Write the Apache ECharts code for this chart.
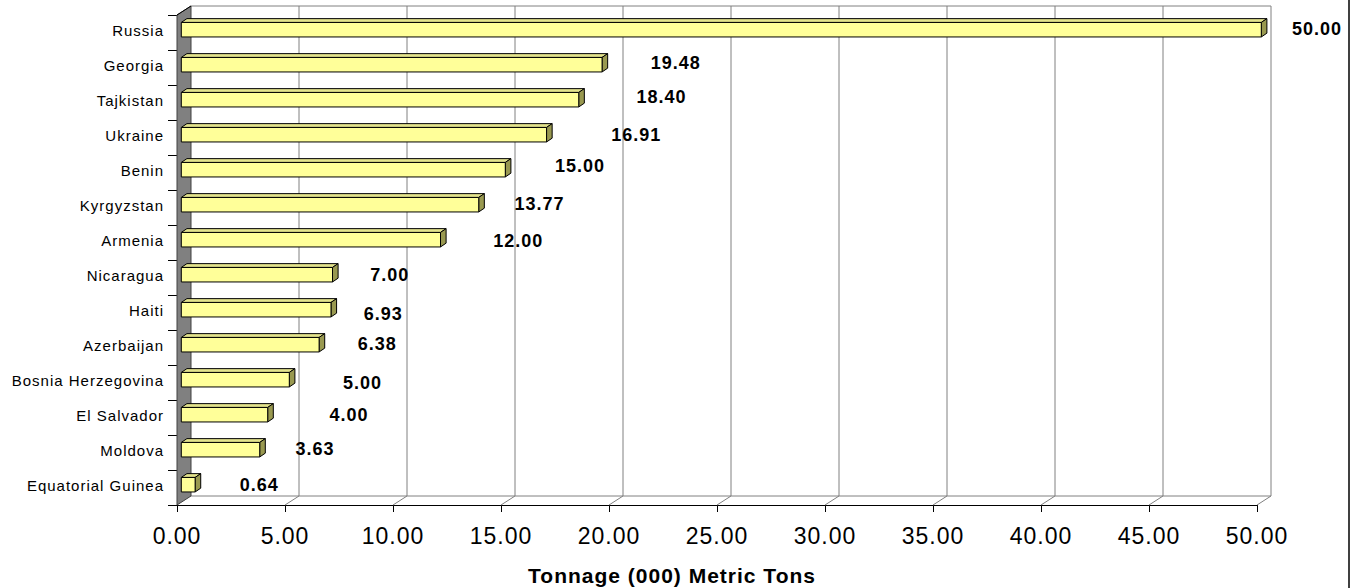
<!DOCTYPE html>
<html>
<head>
<meta charset="utf-8">
<title>Tonnage (000) Metric Tons</title>
<script src="https://cdn.jsdelivr.net/npm/echarts@6/dist/echarts.min.js"></script>
<style>
  html, body { margin: 0; padding: 0; background: #fff; }
  #chart { width: 1360px; height: 588px; }
  /* slightly expanded type, as in the printed report */
  #chart text { letter-spacing: 1px; }
</style>
</head>
<body>
<div id="chart"></div>
<script>
// Recipients, top to bottom
const countries = [
  'Russia', 'Georgia', 'Tajkistan', 'Ukraine', 'Benin', 'Kyrgyzstan', 'Armenia',
  'Nicaragua', 'Haiti', 'Azerbaijan', 'Bosnia Herzegovina', 'El Salvador',
  'Moldova', 'Equatorial Guinea'
];
// Tonnage, thousands of metric tons
const tonnage = [50.00, 19.48, 18.40, 16.91, 15.00, 13.77, 12.00, 7.00, 6.93, 6.38, 5.00, 4.00, 3.63, 0.64];
// Value axis
const axisMin = 0, axisMax = 50, axisStep = 5;
const axisTitle = 'Tonnage (000) Metric Tons';

// Hand-placed value labels: shift (px) from the bar end / row centre
const labelShiftX = [35, 53, 62, 69, 54, 40, 57, 42, 37, 43, 58, 66, 40, 49];
const labelShiftY = [-4, -5, -6, -2.5, -6.5, -3.5, -1.5, -2.5, 1, -4, 0, -2.5, -4, -2.5];

const FONT = '"Liberation Sans", Arial, sans-serif';
const DEPTH = [14, -9];           // floor / wall depth
const BAR_FRONT = [4.3, -2.8];    // bar front plane inside the depth
const BAR_DEPTH = [5.6, -3.8];    // bar thickness along the depth
const NAME_GAP = 13;              // category names to the left of the axis line
const NAME_RAISE = -2;            // names sit a little above the row centre

const tickValues = [];
for (let v = axisMin; v <= axisMax; v += axisStep) tickValues.push(v);

const chart = echarts.init(document.getElementById('chart'), null, { renderer: 'svg' });

// Walls, floor and the back gridlines
function renderFrame(params, api) {
  const cs = params.coordSys;
  const x = cs.x, y = cs.y, w = cs.width, h = cs.height;
  const dx = DEPTH[0], dy = DEPTH[1];
  const grid = { stroke: '#808080', lineWidth: 1 };
  const children = [];
  // back wall top edge and floor back edge
  children.push({ type: 'line', shape: { x1: x + dx, y1: y + dy, x2: x + w + dx, y2: y + dy }, style: grid });
  children.push({ type: 'line', shape: { x1: x + dx, y1: y + h + dy, x2: x + w + dx, y2: y + h + dy }, style: grid });
  tickValues.forEach(function (v) {
    const px = api.coord([v, 0])[0];
    if (v !== axisMin) {
      children.push({ type: 'line', shape: { x1: px + dx, y1: y + dy, x2: px + dx, y2: y + h + dy }, style: grid });
      children.push({ type: 'line', shape: { x1: px, y1: y + h, x2: px + dx, y2: y + h + dy }, style: grid });
    }
  });
  // left side wall
  children.push({
    type: 'polygon',
    shape: { points: [[x, y], [x + dx, y + dy], [x + dx, y + h + dy], [x, y + h]] },
    style: { fill: '#808080', stroke: '#404040', lineWidth: 1 }
  });
  children.push({ type: 'line', shape: { x1: x, y1: y, x2: x + dx, y2: y + dy }, style: { stroke: '#000', lineWidth: 1 } });
  return { type: 'group', children: children };
}

// Box-shaped bars with their value labels and row names
function renderBar(params, api) {
  const idx = api.value(1);
  const val = api.value(0);
  const p0 = api.coord([axisMin, idx]);
  const p1 = api.coord([val, idx]);
  const band = api.size([0, 1])[1];
  const hh = band * 0.415;
  const x0 = p0[0] + BAR_FRONT[0];
  const x1 = p1[0] + BAR_FRONT[0];
  const yT = p1[1] - hh / 2 + BAR_FRONT[1];
  const yB = yT + hh;
  const dx = BAR_DEPTH[0], dy = BAR_DEPTH[1];
  const edge = { stroke: '#000', lineWidth: 1, lineJoin: 'round' };
  return {
    type: 'group',
    children: [
      { type: 'polygon', shape: { points: [[x0, yT], [x0 + dx, yT + dy], [x1 + dx, yT + dy], [x1, yT]] },
        style: Object.assign({ fill: '#E3E38C' }, edge) },
      { type: 'polygon', shape: { points: [[x1, yT], [x1 + dx, yT + dy], [x1 + dx, yB + dy], [x1, yB]] },
        style: Object.assign({ fill: '#999950' }, edge) },
      { type: 'rect', shape: { x: x0, y: yT, width: x1 - x0, height: hh },
        style: Object.assign({ fill: '#FFFF99' }, edge) },
      { type: 'text',
        style: {
          text: val.toFixed(2),
          x: p1[0] + labelShiftX[params.dataIndex],
          y: p1[1] + labelShiftY[params.dataIndex],
          fill: '#000', fontSize: 18, fontWeight: 'bold', fontFamily: FONT,
          align: 'left', verticalAlign: 'middle'
        } },
      { type: 'text',
        style: {
          text: countries[idx],
          x: p0[0] - NAME_GAP,
          y: p0[1] + NAME_RAISE,
          fill: '#000', fontSize: 15, fontFamily: FONT,
          align: 'right', verticalAlign: 'middle'
        } }
    ]
  };
}

chart.setOption({
  animation: false,
  backgroundColor: '#fff',
  grid: { left: 177, right: 103, top: 15, bottom: 83, containLabel: false },
  xAxis: {
    type: 'value', min: axisMin, max: axisMax, interval: axisStep,
    axisLine: { show: true, lineStyle: { color: '#000', width: 1 } },
    axisTick: { show: true, length: 7, lineStyle: { color: '#000' } },
    axisLabel: {
      margin: 19, fontSize: 23, fontFamily: FONT, color: '#000',
      formatter: function (v) { return v.toFixed(2); }
    },
    splitLine: { show: false }
  },
  yAxis: {
    type: 'category', data: countries, inverse: true,
    axisLine: { show: true, lineStyle: { color: '#000', width: 1 } },
    axisTick: { show: true, length: 9, lineStyle: { color: '#000' } },
    axisLabel: { show: false },
    splitLine: { show: false }
  },
  graphic: [
    { type: 'text', x: 672, y: 575, silent: true,
      style: { text: axisTitle, fill: '#000', fontSize: 21, fontWeight: 'bold', fontFamily: FONT,
               align: 'center', verticalAlign: 'middle' } },
    { type: 'line', silent: true, shape: { x1: 1349, y1: 0, x2: 1349, y2: 588 },
      style: { stroke: '#000', lineWidth: 1.5 } }
  ],
  series: [
    { type: 'custom', silent: true, clip: false, z: 1, renderItem: renderFrame, data: [[0, 0]] },
    { type: 'custom', silent: true, clip: false, z: 3, renderItem: renderBar,
      encode: { x: 0, y: 1 },
      data: tonnage.map(function (v, i) { return [v, i]; }) }
  ]
});
</script>
</body>
</html>
